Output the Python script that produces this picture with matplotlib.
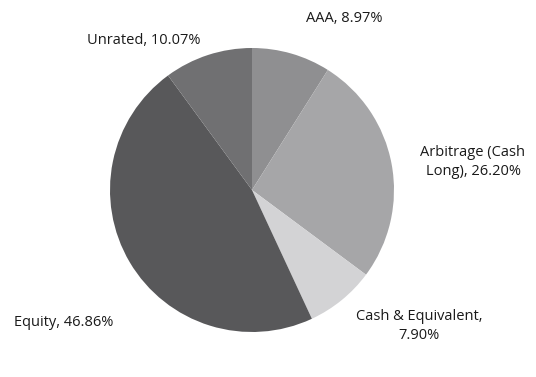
import matplotlib
matplotlib.use("Agg")
import matplotlib.pyplot as plt

# données du graphique
names = ["AAA", "Arbitrage (Cash\nLong)", "Cash & Equivalent,\n", "Equity", "Unrated"]
values = [8.97, 26.20, 7.90, 46.86, 10.07]
colors = ["#8f8f91", "#a6a6a8", "#d3d3d5", "#58585a", "#707072"]

plt.rcParams["font.family"] = ["Open Sans", "DejaVu Sans"]

W, H = 536, 377
fig = plt.figure(figsize=(W / 100, H / 100), dpi=100)
cx, cy, r = 252, 190, 142
ax = fig.add_axes([(cx - r) / W, (H - cy - r) / H, 2 * r / W, 2 * r / H])
ax.pie(values, colors=colors, startangle=90, counterclock=False, radius=1,
       wedgeprops={"linewidth": 0})
ax.set_xlim(-1, 1)
ax.set_ylim(-1, 1)
ax.set_aspect("equal")
ax.axis("off")

# étiquettes (position en pixels)
label_pos = [(344, 19), (473, 162), (419, 326), (64, 322), (144, 40)]
for (x, y), n, v in zip(label_pos, names, values):
    sep = "" if n.endswith("\n") else ", "
    fig.text(x / W, 1 - y / H, f"{n}{sep}{v:.2f}%", ha="center", va="center",
             fontsize=10.5, color="#1a1a1a", linespacing=1.3)

fig.savefig("out.png", dpi=100, facecolor="white")
